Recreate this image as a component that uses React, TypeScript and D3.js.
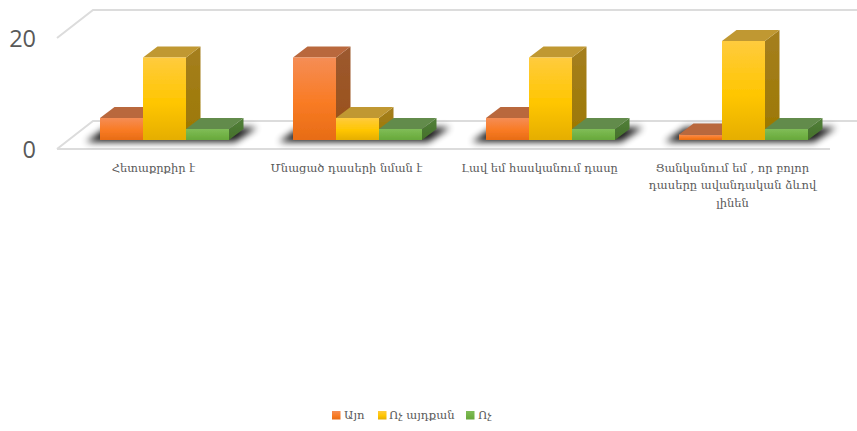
import React from "react";
import * as d3 from "d3";

const categories = ["Հետաքրքիր է", "Մնացած դասերի նման է", "Լավ եմ հասկանում դասը", "Ցանկանում եմ , որ բոլոր դասերը ավանդական ձևով լինեն"];
const categoryLines = [["Հետաքրքիր է"], ["Մնացած դասերի նման է"], ["Լավ եմ հասկանում դասը"], ["Ցանկանում եմ , որ բոլոր", "դասերը ավանդական ձևով", "լինեն"]];
const seriesNames = ["Այո", "Ոչ այդքան", "Ոչ"];
const ayo = [4, 15, 4, 1];
const voch_aydqan = [15, 4, 15, 18];
const voch = [2, 2, 2, 2];
const seriesValues = [ayo, voch_aydqan, voch];
const yTicks = [0, 20];
const front = [["#f58d55", "#f97b24", "#e76c15"], ["#ffcb3e", "#ffc600", "#e5ae02"], ["#80bd58", "#72b246", "#68a83c"]];
const topCol = ["#b9683e", "#c09831", "#628b4b"];
const sideCol = [["#9c5a30", "#9a4f17"], ["#a57f20", "#9c7800"], ["#53803a", "#44702a"]];

const W = 857, H = 431;
const dx = 14.5, dy = -11;
const x0 = d3.scaleBand<string>().domain(categories).range([68, 840]);
const x1 = d3.scaleBand<string>().domain(seriesNames).range([32, 161]);
const y = d3.scaleLinear().domain([0, 20]).range([140, 30]);
const axisY = d3.scaleLinear().domain([0, 20]).range([149, 38]);
const legendX = [332, 378, 466];
const legendTextX = [344, 389, 478];
const TXT = "#595959";
const ARM = "'DejaVu Serif','Liberation Serif',serif";
const pts = (a: number[][]) => a.map((p) => p.join(",")).join(" ");

export default function App() {
  return (
    <svg width={W} height={H} viewBox={`0 0 ${W} ${H}`} style={{ position: "absolute", left: 0, top: 0, background: "#fff" }}>
      <defs>
        {front.map((c, i) => (
          <linearGradient key={i} id={`f${i}`} x1="0" y1="0" x2="0" y2="1">
            <stop offset="0" stopColor={c[0]} />
            <stop offset="0.55" stopColor={c[1]} />
            <stop offset="1" stopColor={c[2]} />
          </linearGradient>
        ))}
        {sideCol.map((c, i) => (
          <linearGradient key={i} id={`s${i}`} x1="0" y1="0" x2="0" y2="1">
            <stop offset="0" stopColor={c[0]} />
            <stop offset="1" stopColor={c[1]} />
          </linearGradient>
        ))}
        <filter id="sh" x="-30%" y="-100%" width="160%" height="300%">
          <feGaussianBlur stdDeviation="3.5" />
        </filter>
        <filter id="soft" x="-5%" y="-5%" width="110%" height="110%">
          <feGaussianBlur stdDeviation="0.35" />
        </filter>
      </defs>
      <g stroke="#dcdcdc" strokeWidth={2} fill="none">
        <polyline points={pts([[57, axisY(20)], [93, 10], [857, 10]])} />
        <polyline points={pts([[57, axisY(0)], [93, 121], [857, 121]])} />
        <line x1={57} y1={axisY(0)} x2={830} y2={axisY(0)} />
      </g>
      {categories.map((c) => {
        const gx = x0(c)!;
        const l = gx + x1(seriesNames[0])!;
        const r = gx + x1(seriesNames[2])! + x1.bandwidth();
        return (
          <g key={c}>
            <polygon points={pts([[l - 14, 142], [r + 6, 142], [r + 28, 127.5], [l + 6, 127.5]])} fill="#000" opacity={0.9} filter="url(#sh)" />
            <line x1={l} x2={r} y1={141} y2={141} stroke="#8a8a8a" strokeWidth={1.5} filter="url(#soft)" />
          </g>
        );
      })}
      <g filter="url(#soft)">
        {categories.map((c, ci) => (
          <g key={c}>
            {seriesNames.map((s, si) => {
              const l = x0(c)! + x1(s)!;
              const w = x1.bandwidth();
              const t = y(seriesValues[si][ci]);
              const b = y(0);
              return (
                <g key={s}>
                  <polygon points={pts([[l + w, t], [l + w + dx, t + dy], [l + w + dx, b + dy], [l + w, b]])} fill={`url(#s${si})`} />
                  <polygon points={pts([[l, t], [l + dx, t + dy], [l + w + dx, t + dy], [l + w, t]])} fill={topCol[si]} />
                </g>
              );
            })}
          </g>
        ))}
        {categories.map((c, ci) => (
          <g key={c}>
            {seriesNames.map((s, si) => {
              const t = y(seriesValues[si][ci]);
              return <rect key={s} x={x0(c)! + x1(s)!} y={t} width={x1.bandwidth()} height={y(0) - t} fill={`url(#f${si})`} />;
            })}
          </g>
        ))}
      </g>
      {yTicks.map((t) => (
        <text key={t} x={36} y={axisY(t) + 8.5} textAnchor="end" fontFamily="'Open Sans',sans-serif" fontSize={23.5} fill={TXT}>{t}</text>
      ))}
      {categories.map((c, i) => (
        <text key={c} textAnchor="middle" fontFamily={ARM} fontSize={11.5} fill={TXT}>
          {categoryLines[i].map((line, j) => (
            <tspan key={j} x={x0(c)! + x0.bandwidth() / 2 - 11} y={171.5 + j * 17.5}>{line}</tspan>
          ))}
        </text>
      ))}
      {seriesNames.map((s, i) => (
        <g key={s}>
          <rect x={legendX[i]} y={411} width={8.5} height={8.5} fill={`url(#f${i})`} />
          <text x={legendTextX[i]} y={419} fontFamily={ARM} fontSize={11.6} fill={TXT}>{s}</text>
        </g>
      ))}
    </svg>
  );
}
